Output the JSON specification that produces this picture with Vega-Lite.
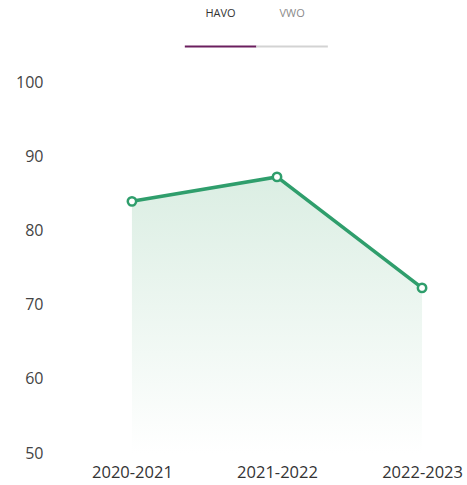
{
  "$schema": "https://vega.github.io/schema/vega-lite/v6.json",
  "width": 360,
  "height": 453,
  "autosize": "none",
  "padding": {"left": 100, "top": 0, "right": 7, "bottom": 32},
  "background": "white",
  "config": {
    "view": {"stroke": null},
    "font": "Open Sans"
  },
  "datasets": {
    "scores": [
      {"year": "2020-2021", "value": 84.0},
      {"year": "2021-2022", "value": 87.3},
      {"year": "2022-2023", "value": 72.3}
    ],
    "tabs": [
      {"tab": "HAVO", "active": true},
      {"tab": "VWO", "active": false}
    ]
  },
  "layer": [
    {
      "data": {"name": "scores"},
      "encoding": {
        "x": {
          "field": "year",
          "type": "ordinal",
          "scale": {"type": "point", "padding": 0.241, "align": 0.457},
          "axis": {
            "title": null,
            "labelAngle": 0,
            "domain": false,
            "ticks": false,
            "labelPadding": 11,
            "labelFontSize": 16.5,
            "labelColor": "#333333",
            "labelFont": "Open Sans"
          }
        },
        "y": {
          "field": "value",
          "type": "quantitative",
          "scale": {"domain": [50, 111.2], "nice": false, "zero": false},
          "axis": {
            "title": null,
            "values": [50, 60, 70, 80, 90, 100],
            "grid": false,
            "domain": false,
            "ticks": false,
            "labelPadding": 57,
            "labelFontSize": 16,
            "labelColor": "#444444",
            "labelFont": "Open Sans"
          }
        }
      },
      "layer": [
        {
          "mark": {
            "type": "area",
            "color": {
              "gradient": "linear",
              "x1": 1, "y1": 1, "x2": 1, "y2": 0,
              "stops": [
                {"offset": 0, "color": "#ffffff"},
                {"offset": 1, "color": "#dbeee3"}
              ]
            }
          },
          "encoding": {"y2": {"datum": 50}}
        },
        {
          "mark": {"type": "line", "color": "#2f9e6c", "strokeWidth": 3.5}
        },
        {
          "mark": {
            "type": "point",
            "shape": "circle",
            "filled": true,
            "fill": "#ffffff",
            "stroke": "#2f9e6c",
            "strokeWidth": 2.5,
            "size": 70,
            "opacity": 1
          }
        }
      ]
    },
    {
      "data": {"name": "tabs"},
      "encoding": {
        "x": {
          "field": "tab",
          "type": "nominal",
          "scale": {
            "type": "band",
            "domain": ["·l", "HAVO", "VWO", "·r"],
            "paddingInner": 0,
            "paddingOuter": 0.517,
            "align": 0.18
          },
          "axis": null
        }
      },
      "layer": [
        {
          "mark": {"type": "text", "fontSize": 11, "font": "Open Sans", "baseline": "middle"},
          "encoding": {
            "text": {"field": "tab"},
            "y": {"datum": 14, "scale": {"domain": [0, 453], "reverse": true, "nice": false, "zero": false}, "axis": null},
            "color": {"condition": {"test": "datum.active", "value": "#333333"}, "value": "#8a8a8a"},
            "fontWeight": {"condition": {"test": "datum.active", "value": 600}, "value": 400}
          }
        },
        {
          "mark": {"type": "bar"},
          "encoding": {
            "y": {"datum": 45.5},
            "y2": {"datum": 47.5},
            "color": {"condition": {"test": "datum.active", "value": "#6b1f5e"}, "value": "#d3d3d3"}
          }
        }
      ]
    }
  ],
  "resolve": {"scale": {"x": "independent", "y": "independent"}, "axis": {"x": "independent", "y": "independent"}}
}
